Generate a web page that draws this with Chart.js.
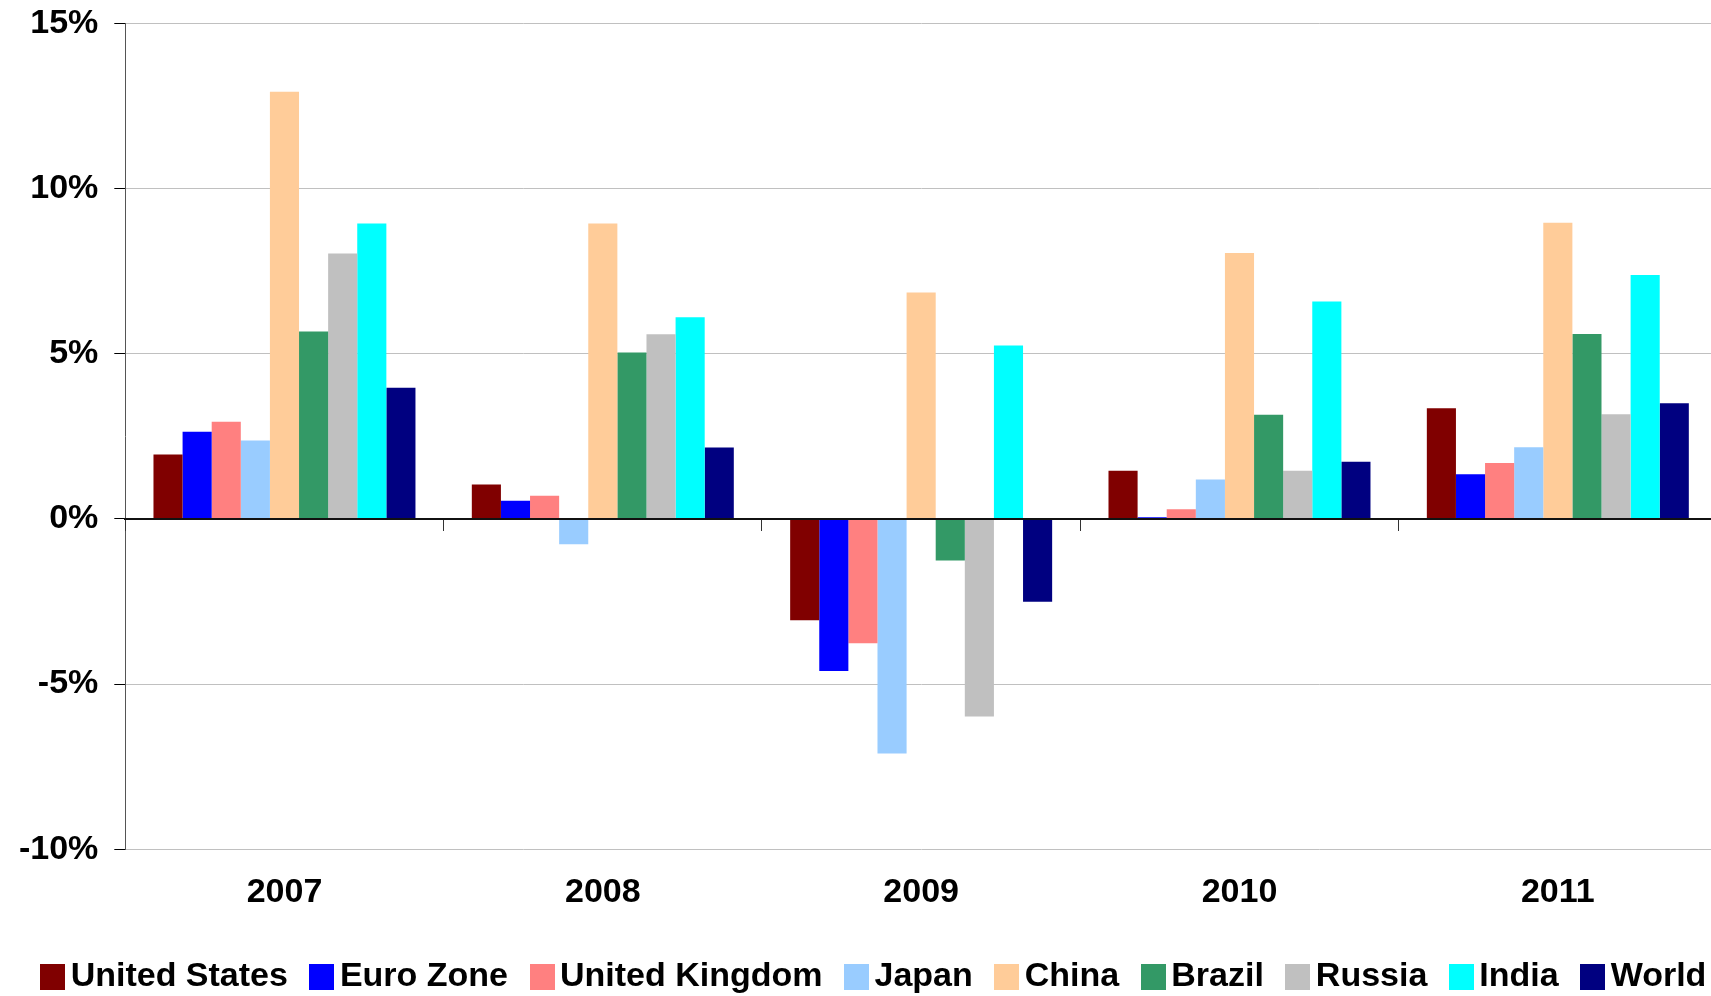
<!DOCTYPE html>
<html><head><meta charset="utf-8">
<script src="https://cdn.jsdelivr.net/npm/chart.js@4/dist/chart.umd.min.js"></script>
<style>html,body{margin:0;padding:0;overflow:hidden;background:#fff}#wrap{width:1758px;height:1004px}</style>
</head><body><div id="wrap"><canvas id="c" width="1758" height="1004"></canvas></div>
<script>
const years = ['2007', '2008', '2009', '2010', '2011'];
const seriesNames = ['United States', 'Euro Zone', 'United Kingdom', 'Japan', 'China', 'Brazil', 'Russia', 'India', 'World'];
const unitedStates = [1.95, 1.04, -3.07, 1.46, 3.35];
const euroZone = [2.64, 0.55, -4.6, 0.05, 1.35];
const unitedKingdom = [2.94, 0.70, -3.76, 0.29, 1.69];
const japan = [2.37, -0.77, -7.1, 1.19, 2.17];
const china = [12.93, 8.94, 6.85, 8.05, 8.96];
const brazil = [5.67, 5.04, -1.26, 3.15, 5.6];
const russia = [8.03, 5.59, -5.98, 1.46, 3.17];
const india = [8.94, 6.1, 5.25, 6.58, 7.38];
const world = [3.97, 2.16, -2.51, 1.73, 3.5];
const seriesColors = ['#800000', '#0000FF', '#FF8080', '#99CCFF', '#FFCC99', '#339966', '#C0C0C0', '#00FFFF', '#000080'];
const yMin = -10, yMax = 15, yStep = 5;

const seriesValues = [unitedStates, euroZone, unitedKingdom, japan, china, brazil, russia, india, world];
const FONT = '"Liberation Sans", Arial, sans-serif';

// legend marker swatches (25 x 26 squares)
const markers = seriesColors.map(col => {
  const cv = document.createElement('canvas');
  cv.width = 25; cv.height = 26;
  const g = cv.getContext('2d');
  g.fillStyle = col; g.fillRect(0, 0, 25, 26);
  return cv;
});

new Chart(document.getElementById('c'), {
  type: 'bar',
  data: {
    labels: years,
    datasets: seriesNames.map((n, i) => ({
      label: n,
      data: seriesValues[i],
      backgroundColor: seriesColors[i],
      borderWidth: 0,
      categoryPercentage: 0.823,
      barPercentage: 1.0
    }))
  },
  options: {
    responsive: false,
    devicePixelRatio: 1,
    animation: false,
    layout: { padding: { left: 0, right: 0, top: 23.3, bottom: 0 } },
    plugins: {
      tooltip: { enabled: false },
      legend: {
        position: 'bottom',
        align: 'center',
        labels: {
          usePointStyle: true,
          boxWidth: 2,
          boxHeight: 26,
          padding: 33,
          color: '#000',
          font: { family: FONT, size: 34, weight: 'bold' },
          generateLabels: chart => Chart.defaults.plugins.legend.labels.generateLabels(chart)
            .map(it => Object.assign(it, { pointStyle: markers[it.datasetIndex], lineWidth: 0 }))
        }
      }
    },
    scales: {
      x: {
        position: 'bottom',
        grid: { display: false, drawTicks: false },
        border: { display: false },
        ticks: { color: '#000', padding: 23, font: { family: FONT, size: 34, weight: 'bold' }, maxRotation: 0 },
        afterFit: s => { s.height = 77.7; }
      },
      x0: {
        type: 'category',
        position: { y: 0 },
        offset: true,
        grid: { offset: true, drawOnChartArea: false, drawTicks: true, tickLength: 11, tickColor: '#333', tickWidth: 1, z: 1 },
        border: { display: true, color: '#111', width: 2, z: 1 },
        ticks: { display: false }
      },
      y: {
        position: 'left',
        min: yMin,
        max: yMax,
        ticks: {
          stepSize: yStep,
          color: '#000',
          padding: 16,
          font: { family: FONT, size: 34, weight: 'bold' },
          callback: v => v + '%'
        },
        grid: { color: '#c0c0c0', lineWidth: 1, tickLength: 11, tickColor: '#000' },
        border: { display: true, color: '#555', width: 1 },
        afterFit: s => { s.width = 125.3; s.paddingTop = 0; s.paddingBottom = 0; }
      },
      yR: {
        type: 'linear',
        position: 'right',
        display: true,
        grid: { display: false },
        border: { display: false },
        ticks: { display: false },
        afterFit: s => { s.width = 41; s.paddingTop = 0; s.paddingBottom = 0; }
      }
    }
  }
});
</script></body></html>
